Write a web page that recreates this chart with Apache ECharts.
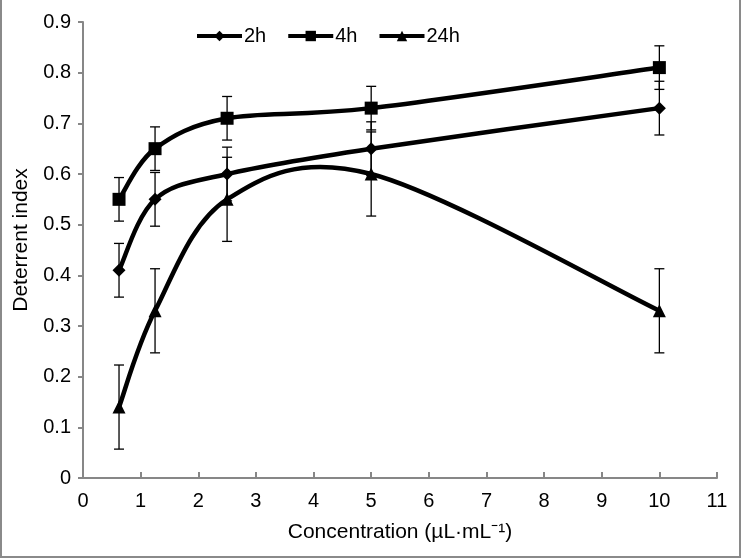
<!DOCTYPE html>
<html>
<head>
<meta charset="utf-8">
<script src="https://cdn.jsdelivr.net/npm/echarts@6/dist/echarts.min.js"></script>
<style>
  html, body { margin: 0; padding: 0; background: #fff; }
  #chart { width: 741px; height: 560px; }
</style>
</head>
<body>
<div id="chart"></div>
<script>
// ---- data ----
const concentrations = [0.625, 1.25, 2.5, 5, 10];
const seriesNames = ['2h', '4h', '24h'];
const values2h = [0.41, 0.55, 0.60, 0.65, 0.73];
const values4h = [0.55, 0.65, 0.71, 0.73, 0.81];
const values24h = [0.14, 0.33, 0.55, 0.60, 0.33];
const err2h = [0.053, 0.053, 0.053, 0.053, 0.053];
const err4h = [0.043, 0.043, 0.043, 0.043, 0.043];
const err24h = [0.083, 0.083, 0.083, 0.083, 0.083];
const xTicks = [0, 1, 2, 3, 4, 5, 6, 7, 8, 9, 10, 11];
const yTicks = [0, 0.1, 0.2, 0.3, 0.4, 0.5, 0.6, 0.7, 0.8, 0.9];

const FONT = "'Liberation Sans', Arial, sans-serif";
const AXIS_GRAY = '#878787';

function pairs(vals) { return concentrations.map((x, i) => [x, vals[i]]); }
function errData(vals, errs) { return concentrations.map((x, i) => [x, vals[i] - errs[i], vals[i] + errs[i]]); }

function errorSeries(vals, errs) {
  return {
    type: 'custom',
    silent: true,
    z: 1,
    renderItem: function (params, api) {
      const x = api.value(0);
      const lo = api.coord([x, api.value(1)]);
      const hi = api.coord([x, api.value(2)]);
      const cap = 5;
      const style = { stroke: '#000', lineWidth: 1.3 };
      return {
        type: 'group',
        children: [
          { type: 'line', shape: { x1: lo[0], y1: lo[1], x2: hi[0], y2: hi[1] }, style: style },
          { type: 'line', shape: { x1: lo[0] - cap, y1: lo[1], x2: lo[0] + cap, y2: lo[1] }, style: style },
          { type: 'line', shape: { x1: hi[0] - cap, y1: hi[1], x2: hi[0] + cap, y2: hi[1] }, style: style }
        ]
      };
    },
    encode: { x: 0, y: [1, 2] },
    data: errData(vals, errs)
  };
}

// Smooth (Catmull-Rom style, Excel-like) curve segment between consecutive data points
function curveSeries(vals) {
  return {
    type: 'custom',
    silent: true,
    z: 2,
    renderItem: function (params, api) {
      const i = params.dataIndexInside;
      const n = params.dataInsideLength;
      if (i >= n - 1) return { type: 'group', children: [] };
      const P = function (k) {
        k = Math.max(0, Math.min(n - 1, k));
        return api.coord([api.value(0, k), api.value(1, k)]);
      };
      const p0 = P(i - 1), p1 = P(i), p2 = P(i + 1), p3 = P(i + 2);
      const t = 1 / 6;
      const c1 = [p1[0] + (p2[0] - p0[0]) * t, p1[1] + (p2[1] - p0[1]) * t];
      const c2 = [p2[0] - (p3[0] - p1[0]) * t, p2[1] - (p3[1] - p1[1]) * t];
      return {
        type: 'bezierCurve',
        shape: { x1: p1[0], y1: p1[1], x2: p2[0], y2: p2[1], cpx1: c1[0], cpy1: c1[1], cpx2: c2[0], cpy2: c2[1] },
        style: { stroke: '#000', lineWidth: 4.5, fill: null, lineCap: 'round' }
      };
    },
    encode: { x: 0, y: 1 },
    data: pairs(vals)
  };
}

function markerSeries(name, vals, symbol, size) {
  return {
    name: name,
    type: 'line',
    z: 3,
    symbol: symbol,
    symbolSize: size,
    showAllSymbol: true,
    lineStyle: { color: '#000', width: 4.5, opacity: 0 },
    itemStyle: { color: '#000', borderWidth: 0 },
    emphasis: { disabled: true },
    data: pairs(vals)
  };
}

const chart = echarts.init(document.getElementById('chart'), null, { renderer: 'canvas' });
chart.setOption({
  animation: false,
  backgroundColor: '#fff',
  textStyle: { fontFamily: FONT },
  grid: { left: 83, right: 24, top: 22, bottom: 82, containLabel: false },
  legend: {
    left: 190,
    top: 21,
    itemWidth: 45,
    itemHeight: 13,
    itemGap: 20,
    lineStyle: { color: '#000', width: 4, opacity: 1 },
    textStyle: { fontFamily: FONT, fontSize: 20, color: '#000', padding: [0, 0, 0, -3] },
    data: [
      { name: seriesNames[0] },
      { name: seriesNames[1] },
      { name: seriesNames[2] }
    ]
  },
  xAxis: {
    type: 'value',
    min: xTicks[0],
    max: xTicks[xTicks.length - 1],
    interval: 1,
    name: 'Concentration (µL·mL⁻¹)',
    nameLocation: 'middle',
    nameGap: 44,
    nameTextStyle: { fontFamily: FONT, fontSize: 21, color: '#000' },
    axisLine: { show: true, onZero: false, lineStyle: { color: AXIS_GRAY, width: 2 } },
    axisTick: { show: true, inside: true, length: 6, lineStyle: { color: AXIS_GRAY, width: 2 } },
    axisLabel: { fontFamily: FONT, fontSize: 20, color: '#000', margin: 13 },
    splitLine: { show: false }
  },
  yAxis: {
    type: 'value',
    min: yTicks[0],
    max: yTicks[yTicks.length - 1],
    interval: 0.1,
    name: 'Deterrent index',
    nameLocation: 'middle',
    nameRotate: 90,
    nameGap: 51,
    nameTextStyle: { fontFamily: FONT, fontSize: 21, color: '#000', padding: [0, 0, 0, 20] },
    axisLine: { show: true, onZero: false, lineStyle: { color: AXIS_GRAY, width: 2 } },
    axisTick: { show: true, inside: false, length: 5, lineStyle: { color: AXIS_GRAY, width: 2 } },
    axisLabel: {
      fontFamily: FONT, fontSize: 20, color: '#000', margin: 12,
      formatter: function (v) { return v === 0 ? '0' : v.toFixed(1); }
    },
    splitLine: { show: false }
  },
  graphic: [
    { type: 'polyline', silent: true, shape: { points: [[1, -5], [1, 557], [740, 557], [740, -5]] },
      style: { stroke: '#8a8a8a', lineWidth: 2, fill: null } }
  ],
  series: [
    errorSeries(values2h, err2h),
    errorSeries(values4h, err4h),
    errorSeries(values24h, err24h),
    curveSeries(values2h),
    curveSeries(values4h),
    curveSeries(values24h),
    markerSeries(seriesNames[0], values2h, 'diamond', 13),
    markerSeries(seriesNames[1], values4h, 'rect', 13),
    markerSeries(seriesNames[2], values24h, 'triangle', 13)
  ]
});
</script>
</body>
</html>
